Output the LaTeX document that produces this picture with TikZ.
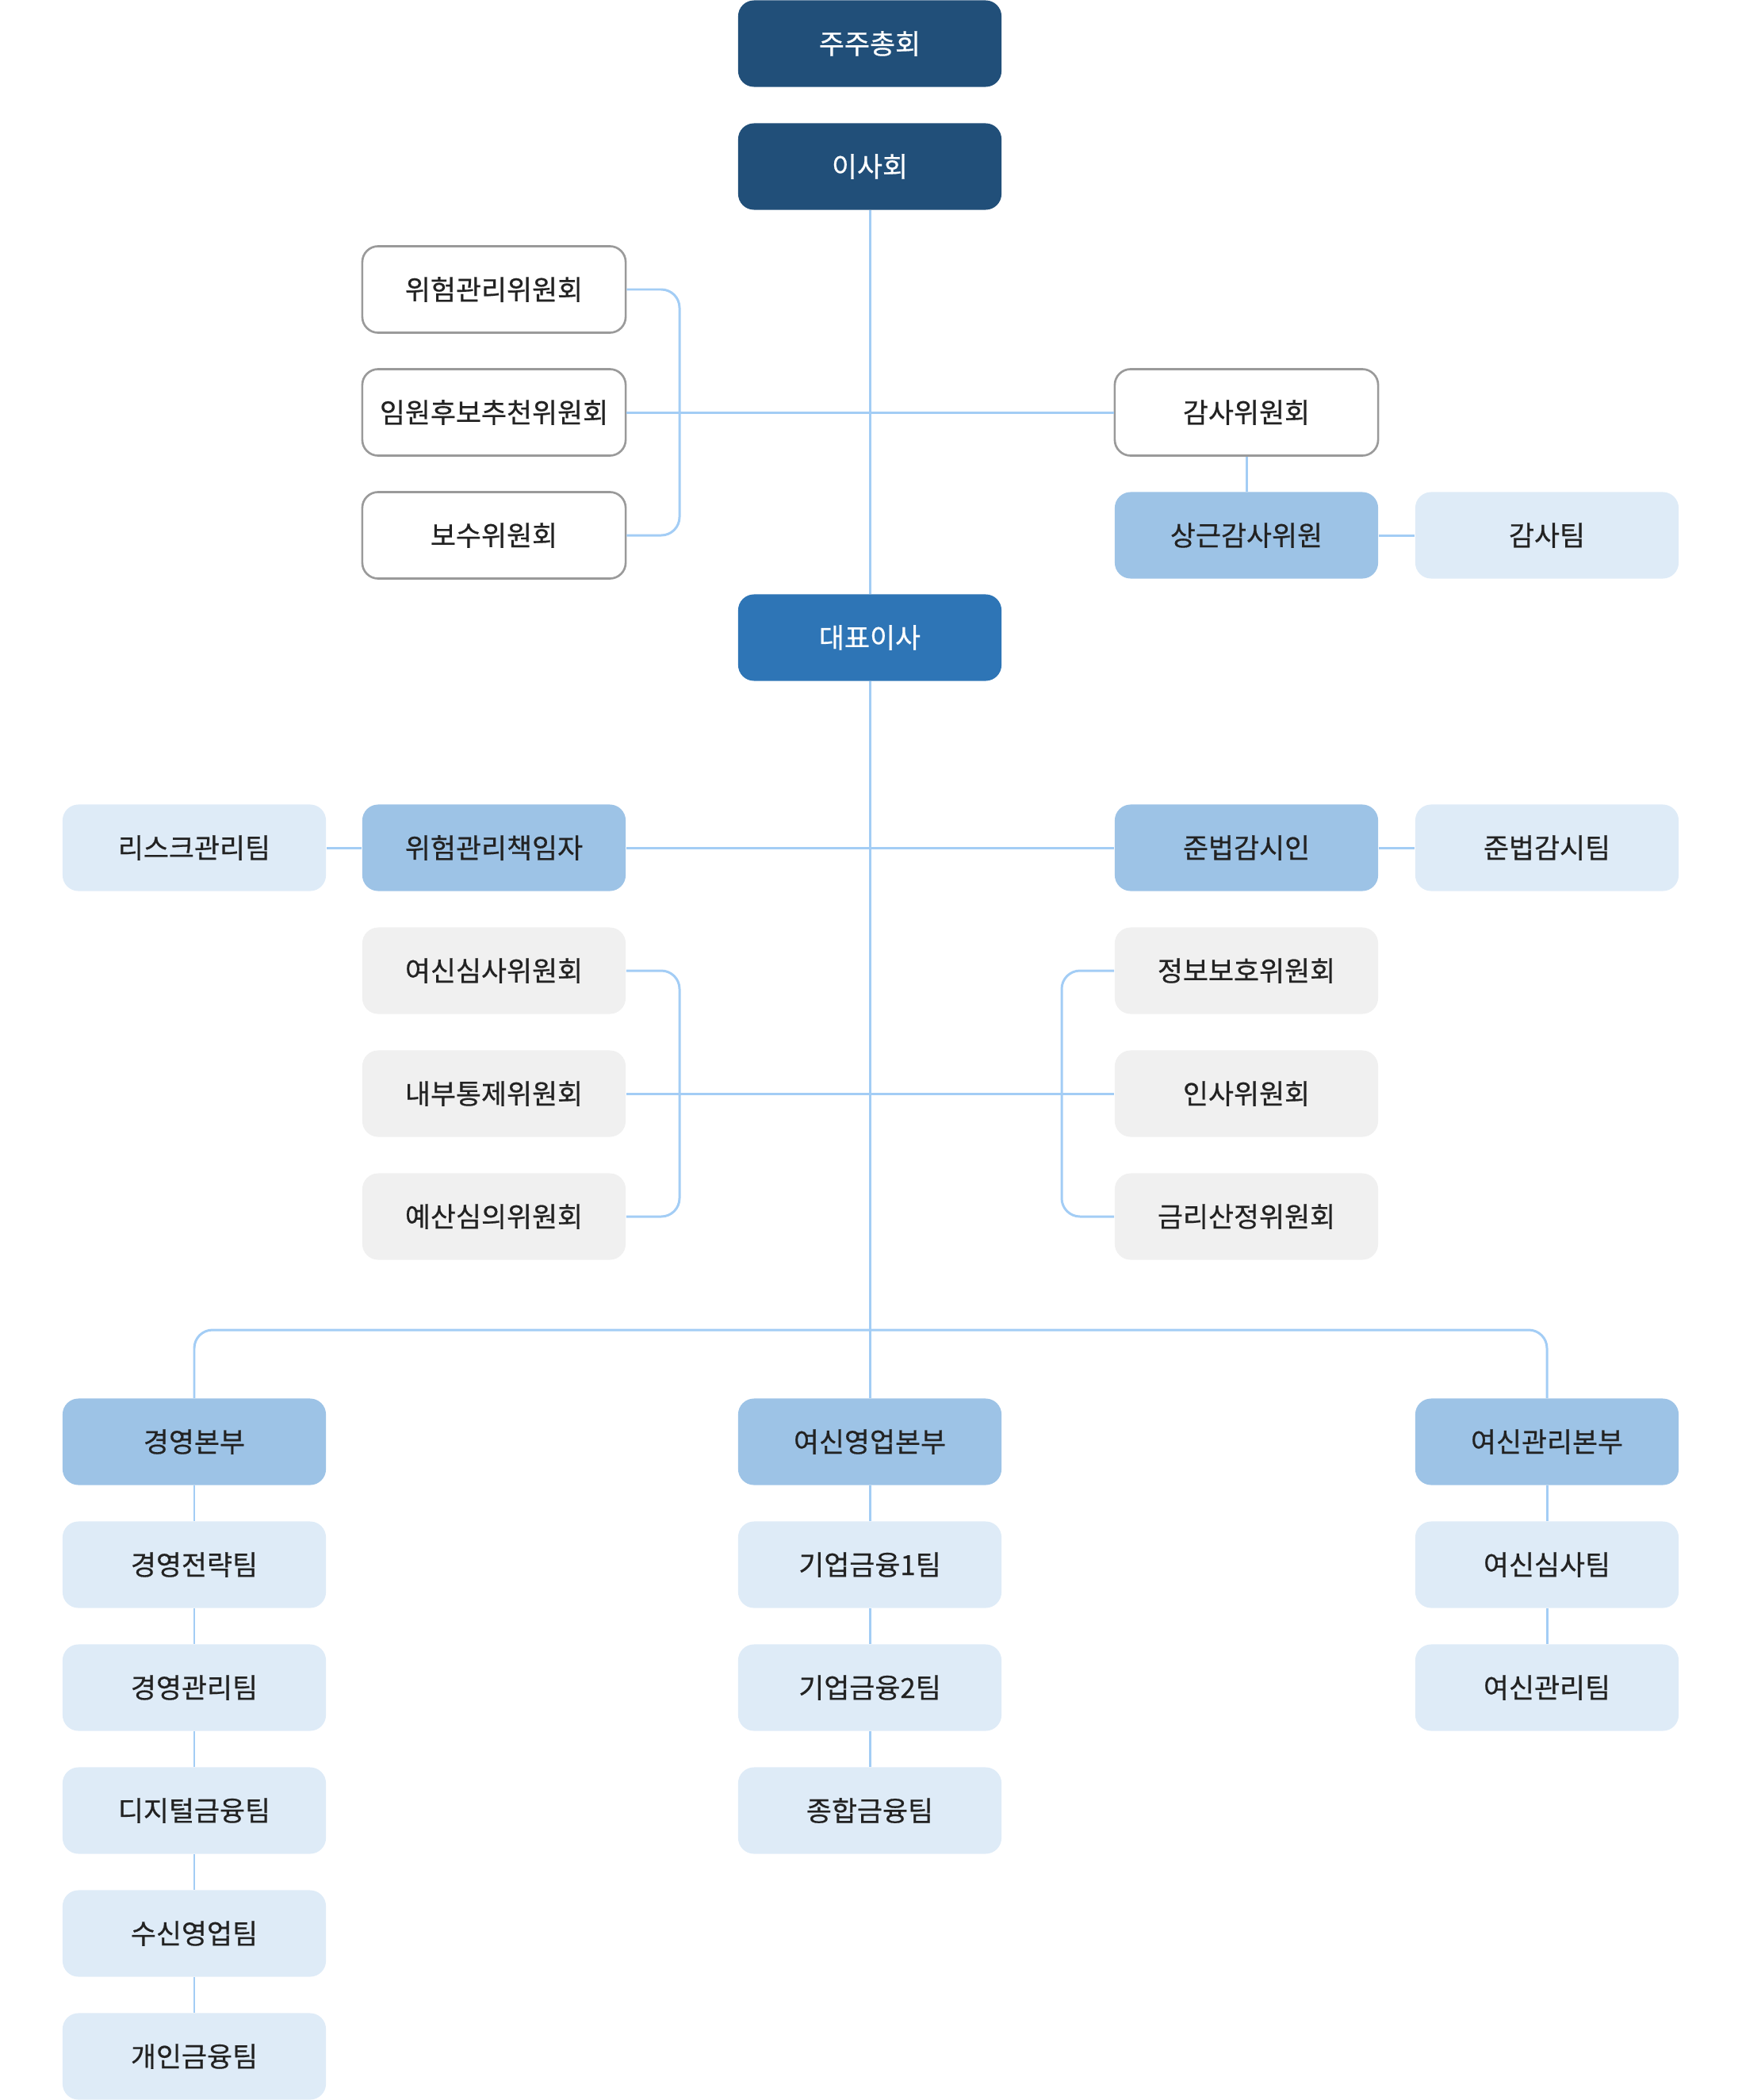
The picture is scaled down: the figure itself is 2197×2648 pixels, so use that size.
\documentclass[tikz,border=0pt]{standalone}
\usepackage{fontspec}
\setmainfont{Noto Sans CJK KR}[BoldFont=Noto Sans CJK KR, BoldFeatures={FakeBold=0.5}]
\usetikzlibrary{positioning}

\definecolor{navy}{HTML}{214F79}
\definecolor{ceoblue}{HTML}{2E75B6}
\definecolor{midblue}{HTML}{9DC3E6}
\definecolor{paleblue}{HTML}{DEEBF7}
\definecolor{palegray}{HTML}{F0F0F0}
\definecolor{edgegray}{HTML}{9A9A9A}
\definecolor{linkblue}{HTML}{A3CDF5}
\definecolor{ink}{HTML}{222222}

\tikzset{
    box/.style={rounded corners=0.2cm, minimum width=3.32cm, minimum height=1.09cm,
        inner sep=0pt, text=ink, font=\fontsize{9.9}{11}\selectfont\bfseries},
    topbox/.style={box, fill=navy, text=white},
    ceobox/.style={box, fill=ceoblue, text=white},
    cmtbox/.style={box, fill=white, draw=edgegray, line width=0.75pt},
    headbox/.style={box, fill=midblue},
    teambox/.style={box, fill=paleblue},
    grpbox/.style={box, fill=palegray},
    link/.style={draw=linkblue, line width=0.85pt, rounded corners=0.23cm}
}

\begin{document}
\begin{tikzpicture}[x=0.01cm, y=-0.01cm]
    \useasboundingbox (0,0) rectangle (2197,2648);

    % board level
    \node[topbox] (agm) at (1097,55) {주주총회};
    \node[topbox] (board) at (1097,210) {이사회};
    \node[cmtbox] (riskc) at (623,365) {위험관리위원회};
    \node[cmtbox] (nomc) at (623,520) {임원후보추천위원회};
    \node[cmtbox] (payc) at (623,675) {보수위원회};
    \node[cmtbox] (auditc) at (1572,520) {감사위원회};
    \node[headbox] (auditor) at (1572,675) {상근감사위원};
    \node[teambox] (auditteam) at (1951,675) {감사팀};
    \node[ceobox] (ceo) at (1097,804) {대표이사};

    % officers and committees
    \node[teambox] (riskteam) at (245,1069) {리스크관리팀};
    \node[headbox] (cro) at (623,1069) {위험관리책임자};
    \node[headbox] (cco) at (1572,1069) {준법감시인};
    \node[teambox] (ccoteam) at (1951,1069) {준법감시팀};
    \node[grpbox] (creditc) at (623,1224) {여신심사위원회};
    \node[grpbox] (controlc) at (623,1379) {내부통제위원회};
    \node[grpbox] (budgetc) at (623,1534) {예산심의위원회};
    \node[grpbox] (infoc) at (1572,1224) {정보보호위원회};
    \node[grpbox] (hrc) at (1572,1379) {인사위원회};
    \node[grpbox] (ratec) at (1572,1534) {금리산정위원회};

    % divisions
    \node[headbox] (mgmt) at (245,1818) {경영본부};
    \node[headbox] (sales) at (1097,1818) {여신영업본부};
    \node[headbox] (loan) at (1951,1818) {여신관리본부};
    \foreach \name/\text [count=\i] in {mgmt1/경영전략팀, mgmt2/경영관리팀,
            mgmt3/디지털금융팀, mgmt4/수신영업팀, mgmt5/개인금융팀}
        \node[teambox] (\name) at (245,{1818+155*\i}) {\text};
    \foreach \name/\text [count=\i] in {sales1/기업금융1팀, sales2/기업금융2팀,
            sales3/종합금융팀}
        \node[teambox] (\name) at (1097,{1818+155*\i}) {\text};
    \foreach \name/\text [count=\i] in {loan1/여신심사팀, loan2/여신관리팀}
        \node[teambox] (\name) at (1951,{1818+155*\i}) {\text};

    % connectors
    \coordinate (lbrk) at (857,520);
    \coordinate (lbrk2) at (857,1379);
    \coordinate (rbrk) at (1339,1379);
    \coordinate (bus) at (1097,1677);

    \draw[link] (board) -- (ceo);
    \draw[link] (ceo) -- (sales);
    \draw[link] (nomc) -- (auditc);
    \draw[link] (riskc.east) -| (lbrk) |- (payc.east);
    \draw[link] (auditc) -- (auditor);
    \draw[link] (auditor) -- (auditteam);
    \draw[link] (riskteam) -- (cro);
    \draw[link] (cro) -- (cco);
    \draw[link] (cco) -- (ccoteam);
    \draw[link] (controlc) -- (hrc);
    \draw[link] (creditc.east) -| (lbrk2) |- (budgetc.east);
    \draw[link] (infoc.west) -| (rbrk) |- (ratec.west);
    \draw[link] (mgmt.north) |- (bus) -| (loan.north);
    \foreach \a/\b in {mgmt/mgmt1, mgmt1/mgmt2, mgmt2/mgmt3, mgmt3/mgmt4,
            mgmt4/mgmt5, sales/sales1, sales1/sales2, sales2/sales3,
            loan/loan1, loan1/loan2}
        \draw[link] (\a) -- (\b);
\end{tikzpicture}
\end{document}
